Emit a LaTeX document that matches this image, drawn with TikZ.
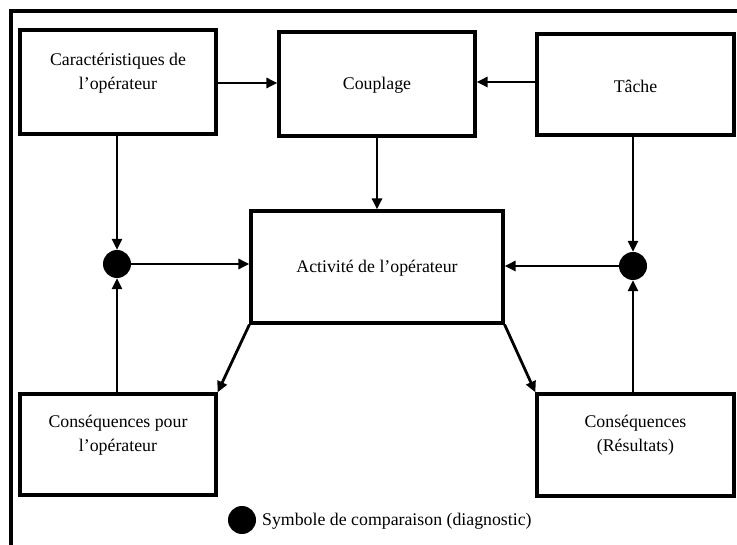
\documentclass[tikz,border=0pt]{standalone}
\usepackage{fontspec}
\setmainfont{Liberation Serif}
\usetikzlibrary{arrows.meta}
\begin{document}
\begin{tikzpicture}[x=1pt,y=-1pt,
  box/.style={draw=black,line width=3.2pt,inner sep=0pt},
  lbl/.style={font=\fontsize{17.8}{24.5}\selectfont,align=center,inner sep=0pt},
  conn/.style={line width=2.8pt,-{Triangle[length=11pt,width=10pt]}},
  cmp/.style={circle,fill=black,minimum size=28pt,inner sep=0pt}]
\useasboundingbox (0,0) rectangle (737,545);
\fill[white] (0,0) rectangle (737,545);
% frame
\draw[line width=4.5pt] (11,545) -- (11,11) -- (737,11);
% boxes
\node[box,minimum width=196pt,minimum height=104pt] (car) at (118,82) {};
\node[box,minimum width=196pt,minimum height=104pt] (cou) at (377,84) {};
\node[box,minimum width=197pt,minimum height=101pt] (tac) at (635.5,84.5) {};
\node[box,minimum width=252pt,minimum height=112pt] (act) at (377,267) {};
\node[box,minimum width=196pt,minimum height=101pt] (cpo) at (118,444.5) {};
\node[box,minimum width=197pt,minimum height=102pt] (cre) at (635.5,445) {};
% labels
\node[lbl] at (118,73) {Caractéristiques de\\l’opérateur};
\node[lbl] at (377,85) {Couplage};
\node[lbl] at (635.5,86) {Tâche};
\node[lbl] at (377,268) {Activité de l’opérateur};
\node[lbl] at (118,435) {Conséquences pour\\l’opérateur};
\node[lbl] at (635.5,435) {Conséquences\\(Résultats)};
% comparison symbols
\node[cmp] (c1) at (117,264) {};
\node[cmp] (c2) at (633,266) {};
% connectors
\draw[conn] (car.east |- 0,83) -- (cou.west |- 0,83);
\draw[conn] (tac.west |- 0,82) -- (cou.east |- 0,82);
\draw[conn] (cou.south) -- (act.north);
\draw[conn] (car.south -| c1) -- (c1.north);
\draw[conn] (cpo.north -| c1) -- (c1.south);
\draw[conn] (c1.east) -- (act.west |- c1);
\draw[conn] (tac.south -| c2) -- (c2.north);
\draw[conn] (cre.north -| c2) -- (c2.south);
\draw[conn] (c2.west) -- (act.east |- c2);
\draw[conn] (act.south west) -- (cpo.north east);
\draw[conn] (act.south east) -- (cre.north west);
% legend
\node[cmp] (lg) at (242,520) {};
\node[lbl,anchor=west] (lgt) at (262,521) {Symbole de comparaison (diagnostic)};
\end{tikzpicture}
\end{document}
